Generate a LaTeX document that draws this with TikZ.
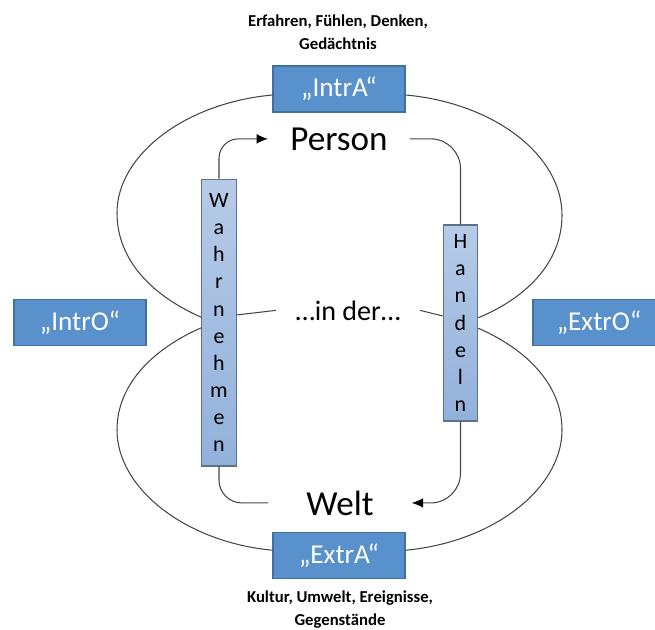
\documentclass[tikz,border=0pt]{standalone}
\usepackage{fontspec}
\setmainfont{Carlito}
\usetikzlibrary{arrows.meta}

\definecolor{boxblau}{RGB}{89,145,205}
\definecolor{boxrand}{RGB}{65,113,156}
\definecolor{hellblau}{RGB}{182,203,232}
\definecolor{hellblauunten}{RGB}{146,177,218}
\definecolor{hellrand}{RGB}{95,112,138}
\definecolor{linie}{RGB}{70,70,70}

\tikzset{
	dunkel/.style={draw=boxrand, fill=boxblau, text=white, line width=0.6pt,
		font=\fontsize{15.5}{18}\selectfont, minimum width=2.64cm, minimum height=0.92cm, inner sep=0pt},
	hell/.style={draw=hellrand, top color=hellblau, bottom color=hellblauunten, line width=0.6pt,
		font=\fontsize{12.5}{15.4}\selectfont, align=center, minimum width=0.69cm, inner sep=0pt},
	notiz/.style={font=\bfseries\fontsize{9.5}{12.8}\selectfont, align=center, anchor=base},
	gross/.style={font=\fontsize{20}{24}\selectfont, anchor=base},
	bahn/.style={draw=linie, line width=0.6pt},
}

\begin{document}
\begin{tikzpicture}[x=0.02cm, y=-0.02cm, >={Latex[length=6.5pt,width=5.5pt,color=black]}]
	\useasboundingbox (0,0) rectangle (655,629);
	\clip (0,0) rectangle (655,629);

	% Kaesten
	\node[dunkel] (intra) at (339,89) {„IntrA“};
	\node[dunkel] (extra) at (339,555.5) {„ExtrA“};
	\node[dunkel] (intro) at (80,322.5) {„IntrO“};
	\node[dunkel] (extro) at (599,322.5) {„ExtrO“};
	\node[hell, minimum height=5.74cm] (wahr) at (219,322.5) {W\\a\\h\\r\\n\\e\\h\\m\\e\\n};
	\node[hell, minimum height=3.92cm] (hand) at (460.5,323) {H\\a\\n\\d\\e\\l\\n};

	% Texte
	\node[gross, inner xsep=12.5pt] (person) at (339,150) {Person};
	\node[gross, inner xsep=21.5pt] (welt) at (340,515) {Welt};
	\node[font=\fontsize{16}{19}\selectfont, anchor=base, inner xsep=11pt] (inder) at (348,320) {…in der…};
	\node[notiz] (oben) at (338,49) {Erfahren, Fühlen, Denken,\\Gedächtnis};
	\node[notiz] (unten) at (340,625) {Kultur, Umwelt, Ereignisse,\\Gegenstände};

	% Schleifen
	\draw[bahn] ([yshift=-3.4pt]intra.west) .. controls (185,103) and (117,155) .. (117,213)
		.. controls (117,262) and (155,297) .. ([yshift=3pt]wahr.west);
	\draw[bahn] ([yshift=-3pt]wahr.west) .. controls (155,348) and (117,383) .. (117,430)
		.. controls (117,488) and (185,542) .. ([yshift=3pt]extra.west);
	\draw[bahn] ([yshift=-3.4pt]intra.east) .. controls (494,103) and (562,155) .. (562,215)
		.. controls (562,264) and (524,299) .. ([yshift=3pt]hand.east);
	\draw[bahn] ([yshift=-3pt]hand.east) .. controls (524,348) and (562,383) .. (562,430)
		.. controls (562,488) and (494,542) .. ([yshift=3pt]extra.east);
	\draw[bahn] ([yshift=4.3pt]wahr.east) -- (inder.west);
	\draw[bahn] (inder.east) -- ([yshift=4pt]hand.west);

	% Pfeile
	\draw[bahn, ->, rounded corners=11pt] (wahr.north) |- (person.west);
	\draw[bahn, rounded corners=17pt] (person.east) -| (hand.north);
	\draw[bahn, ->, rounded corners=17pt] (hand.south) |- (welt.east);
	\draw[bahn, rounded corners=13pt] (wahr.south) |- (welt.west);
\end{tikzpicture}
\end{document}
